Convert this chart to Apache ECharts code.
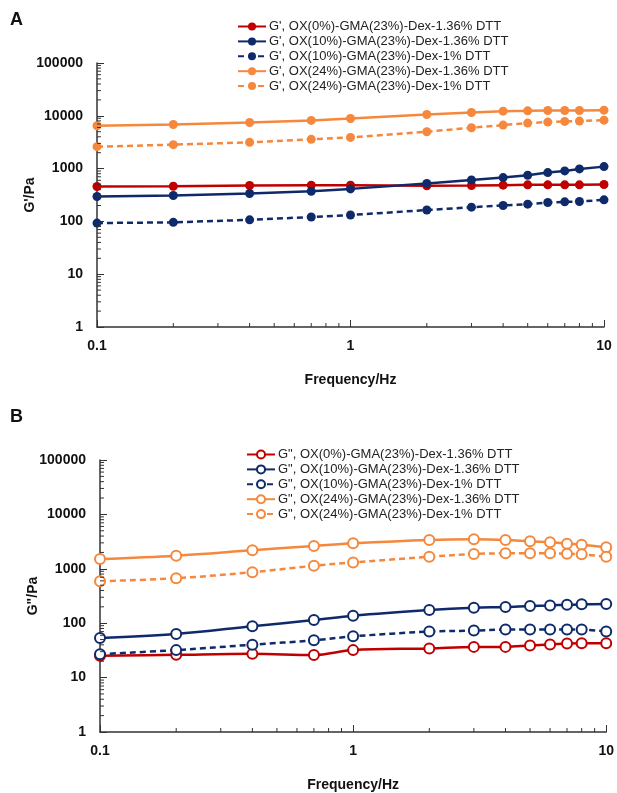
<!DOCTYPE html>
<html>
<head>
<meta charset="utf-8">
<script src="https://cdn.jsdelivr.net/npm/echarts@6/dist/echarts.min.js"></script>
<style>
  html, body { margin: 0; padding: 0; background: #fff; }
  #chart { width: 617px; height: 793px; }
</style>
</head>
<body>
<div id="chart"></div>
<script>
// Oscillatory frequency sweep, storage (G') and loss (G") moduli
const frequency = [0.1, 0.2, 0.4, 0.7, 1, 2, 3, 4, 5, 6, 7, 8, 10];

// Panel A: storage modulus G' (Pa)
const gp_ox0_136   = [457, 462, 478, 485, 485, 471, 478, 485, 492, 492, 492, 492, 499];
const gp_ox10_136  = [296, 310, 338, 373, 413, 521, 611, 676, 748, 841, 904, 986, 1090];
const gp_ox10_1    = [93, 96, 107, 121, 132, 164, 186, 200, 212, 228, 235, 238, 256];
const gp_ox24_136  = [6470, 6850, 7480, 8170, 8910, 10600, 11560, 12250, 12430, 12600, 12600, 12600, 12800];
const gp_ox24_1    = [2600, 2840, 3140, 3580, 3900, 4990, 5940, 6670, 7280, 7610, 7820, 7930, 8280];

// Panel B: loss modulus G" (Pa)
const gpp_ox0_136  = [25.1, 26.2, 27.3, 25.9, 32, 34.4, 36.7, 36.7, 39, 40.6, 42.4, 43, 43];
const gpp_ox10_136 = [53.5, 63.4, 87.9, 114, 137, 174, 192, 198, 207, 212, 219, 222, 225];
const gpp_ox10_1   = [27, 32, 40.3, 48.4, 57.4, 70.1, 73.1, 76.3, 76.3, 76.3, 76.3, 76.3, 70.1];
const gpp_ox24_136 = [1510, 1740, 2190, 2630, 2950, 3400, 3490, 3400, 3200, 3080, 2900, 2780, 2480];
const gpp_ox24_1   = [591, 671, 867, 1137, 1310, 1667, 1870, 1925, 1925, 1925, 1895, 1842, 1667];

const namesA = [
  "G', OX(0%)-GMA(23%)-Dex-1.36% DTT",
  "G', OX(10%)-GMA(23%)-Dex-1.36% DTT",
  "G', OX(10%)-GMA(23%)-Dex-1% DTT",
  "G', OX(24%)-GMA(23%)-Dex-1.36% DTT",
  "G', OX(24%)-GMA(23%)-Dex-1% DTT"
];
const namesB = [
  'G", OX(0%)-GMA(23%)-Dex-1.36% DTT',
  'G", OX(10%)-GMA(23%)-Dex-1.36% DTT',
  'G", OX(10%)-GMA(23%)-Dex-1% DTT',
  'G", OX(24%)-GMA(23%)-Dex-1.36% DTT',
  'G", OX(24%)-GMA(23%)-Dex-1% DTT'
];

// Axis tick values
const xTickLabels = [0.1, 1, 10];
const yTickLabels = [1, 10, 100, 1000, 10000, 100000];
const minorMultipliers = [2, 3, 4, 5, 6, 7, 8, 9];
const xDecades = [0.1, 1];
const yDecades = [1, 10, 100, 1000, 10000];

const RED = '#C00000';
const NAVY = '#0F2A6B';
const ORANGE = '#F5883C';
const FONT = 'Liberation Sans, Arial, sans-serif';
const AXIS_COLOR = '#333';

const chart = echarts.init(document.getElementById('chart'), null, { renderer: 'canvas' });

function pairs(ys) { return frequency.map((f, i) => [f, ys[i]]); }

function lineSeries(name, ys, color, dashed, panel) {
  const hollow = panel === 1;
  return {
    type: 'line',
    name: name,
    xAxisIndex: panel,
    yAxisIndex: panel,
    data: pairs(ys),
    smooth: hollow ? 0.35 : false,
    symbol: hollow ? 'emptyCircle' : 'circle',
    symbolSize: hollow ? 10 : 9,
    showSymbol: true,
    lineStyle: { color: color, width: 2.5, type: dashed ? [6, 4] : 'solid' },
    itemStyle: { color: color, borderColor: color, borderWidth: hollow ? 1.3 : 0 },
    emphasis: { disabled: true },
    z: 3
  };
}

// Minor tick marks at 2..9 of each decade, placed through the axis scales
function minorTickSeries(panel) {
  const data = [];
  yDecades.forEach(d => minorMultipliers.forEach(m => data.push({ value: [0.1, m * d], kind: 'y' })));
  xDecades.forEach(d => minorMultipliers.forEach(m => data.push({ value: [m * d, 1], kind: 'x' })));
  return {
    type: 'custom',
    xAxisIndex: panel,
    yAxisIndex: panel,
    silent: true,
    clip: false,
    z: 4,
    data: data,
    renderItem: function (params, api) {
      const p = api.coord([api.value(0), api.value(1)]);
      const kind = data[params.dataIndex].kind;
      const shape = kind === 'y'
        ? { x1: p[0], y1: p[1], x2: p[0] + 4, y2: p[1] }
        : { x1: p[0], y1: p[1], x2: p[0], y2: p[1] - 4 };
      return { type: 'line', shape: shape, style: { stroke: AXIS_COLOR, lineWidth: 1 } };
    }
  };
}

function xAxis(panel) {
  return {
    type: 'log', logBase: 10, gridIndex: panel,
    min: 0.1, max: 10, interval: 1,
    name: 'Frequency/Hz', nameLocation: 'middle', nameGap: 46,
    nameMoveOverlap: false,
    nameTextStyle: { fontFamily: FONT, fontSize: 14, fontWeight: 'bold', color: '#111' },
    axisLine: { show: true, lineStyle: { color: AXIS_COLOR, width: 1.5 } },
    axisTick: { show: true, inside: true, length: 7, lineStyle: { color: AXIS_COLOR, width: 1 } },
    axisLabel: {
      margin: 12, fontFamily: FONT, fontSize: 14, fontWeight: 'bold', color: '#111',
      formatter: v => {
        const t = xTickLabels.find(x => Math.abs(x - v) / x < 1e-6);
        return t === undefined ? '' : String(t);
      }
    },
    splitLine: { show: false }
  };
}

function yAxis(panel, name) {
  return {
    type: 'log', logBase: 10, gridIndex: panel,
    min: 1, max: 100000, interval: 1,
    name: name, nameLocation: 'middle', nameGap: 60, nameRotate: 90,
    nameMoveOverlap: false,
    nameTextStyle: { fontFamily: FONT, fontSize: 14, fontWeight: 'bold', color: '#111' },
    axisLine: { show: true, lineStyle: { color: AXIS_COLOR, width: 1.5 } },
    axisTick: { show: true, inside: true, length: 7, lineStyle: { color: AXIS_COLOR, width: 1 } },
    axisLabel: {
      margin: 14, fontFamily: FONT, fontSize: 14, fontWeight: 'bold', color: '#111',
      formatter: v => {
        const t = yTickLabels.find(y => Math.abs(y - v) / y < 1e-6);
        return t === undefined ? '' : String(t);
      }
    },
    splitLine: { show: false }
  };
}

function legend(names, left, top) {
  return {
    orient: 'vertical', left: left, top: top,
    data: names,
    itemWidth: 28, itemHeight: 10, itemGap: 1.9,
    selectedMode: false,
    textStyle: { fontFamily: FONT, fontSize: 13, color: '#222', padding: [0, 0, 0, -2] }
  };
}

const option = {
  animation: false,
  backgroundColor: '#fff',
  grid: [
    { left: 97, right: 13, top: 63, height: 264 },
    { left: 100, right: 10, top: 460, height: 273 }
  ],
  xAxis: [xAxis(0), xAxis(1)],
  yAxis: [yAxis(0, "G'/Pa"), yAxis(1, 'G"/Pa')],
  legend: [legend(namesA, 232, 15), legend(namesB, 241, 443)],
  graphic: [
    { type: 'text', left: 10, top: 11, style: { text: 'A', fontFamily: FONT, fontSize: 18, fontWeight: 'bold', fill: '#111' } },
    { type: 'text', left: 10, top: 408, style: { text: 'B', fontFamily: FONT, fontSize: 18, fontWeight: 'bold', fill: '#111' } }
  ],
  series: [
    lineSeries(namesA[0], gp_ox0_136, RED, false, 0),
    lineSeries(namesA[1], gp_ox10_136, NAVY, false, 0),
    lineSeries(namesA[2], gp_ox10_1, NAVY, true, 0),
    lineSeries(namesA[3], gp_ox24_136, ORANGE, false, 0),
    lineSeries(namesA[4], gp_ox24_1, ORANGE, true, 0),
    lineSeries(namesB[0], gpp_ox0_136, RED, false, 1),
    lineSeries(namesB[1], gpp_ox10_136, NAVY, false, 1),
    lineSeries(namesB[2], gpp_ox10_1, NAVY, true, 1),
    lineSeries(namesB[3], gpp_ox24_136, ORANGE, false, 1),
    lineSeries(namesB[4], gpp_ox24_1, ORANGE, true, 1),
    minorTickSeries(0),
    minorTickSeries(1)
  ]
};

chart.setOption(option);
</script>
</body>
</html>
